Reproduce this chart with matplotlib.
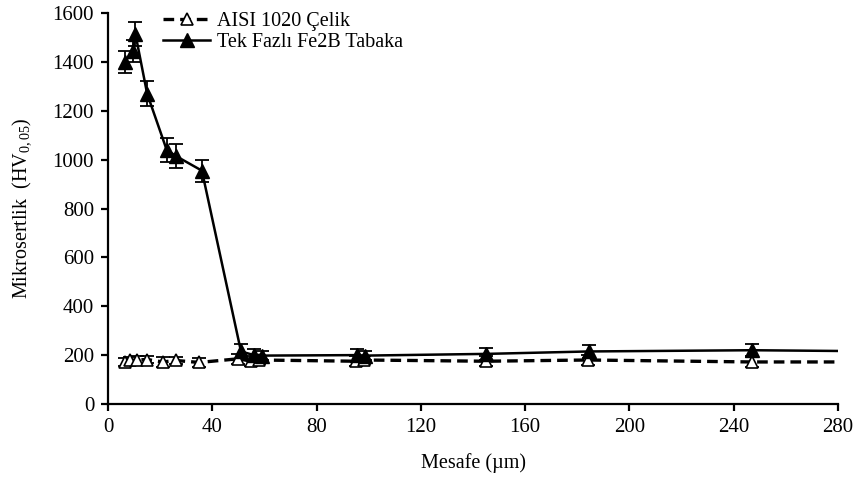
import numpy as np
import matplotlib
matplotlib.use("Agg")
import matplotlib.pyplot as plt

plt.rcParams['font.family'] = ['Liberation Serif', 'DejaVu Serif']
plt.rcParams['mathtext.fontset'] = 'custom'
plt.rcParams['mathtext.rm'] = 'Liberation Serif'
plt.rcParams['mathtext.it'] = 'Liberation Serif:italic'

# --- data ---
steel_x = [6.5, 8.5, 11, 15, 21, 26, 35, 50, 55, 58, 95, 98, 145, 184, 247, 280]
steel_y = [172, 178, 180, 182, 172, 178, 170, 185, 175, 180, 175, 180, 175, 180, 172, 172]
steel_err = [15, 15, 15, 15, 20, 15, 20, 20, 20, 15, 20, 15, 20, 20, 20, 0]

fe2b_x = [6.5, 9.5, 10.5, 15, 22.5, 26, 36, 51, 56, 59, 95.5, 98.5, 145, 184.5, 247, 280]
fe2b_y = [1400, 1445, 1515, 1270, 1040, 1015, 955, 215, 200, 198, 200, 198, 205, 215, 220, 217]
fe2b_err = [45, 45, 50, 50, 50, 50, 45, 30, 25, 20, 25, 20, 25, 25, 25, 0]

fig = plt.figure(figsize=(8.58, 4.83), dpi=100)
ax = fig.add_axes([0.1259, 0.1636, 0.8508, 0.8094])

# error bars (no marker on last point at the axis edge)
ax.errorbar(steel_x[:-1], steel_y[:-1], yerr=steel_err[:-1], fmt='none',
            ecolor='black', elinewidth=1.3, capsize=5, capthick=1.3)
ax.errorbar(fe2b_x[:-1], fe2b_y[:-1], yerr=fe2b_err[:-1], fmt='none',
            ecolor='black', elinewidth=1.3, capsize=5, capthick=1.3)

ax.plot(steel_x, steel_y, color='black', lw=2.4, ls=(0, (3.2, 1.8)),
        marker='^', markevery=list(range(len(steel_x) - 1)), ms=8,
        mfc='white', mec='black', mew=1.2, label='AISI 1020 Çelik')
ax.plot(fe2b_x, fe2b_y, color='black', lw=1.8,
        marker='^', markevery=list(range(len(fe2b_x) - 1)), ms=10,
        mfc='black', mec='black', label='Tek Fazlı Fe2B Tabaka')

ax.set_xlim(0, 280)
ax.set_ylim(0, 1600)
ax.set_xticks(np.arange(0, 281, 40))
ax.set_yticks(np.arange(0, 1601, 200))
ax.spines['top'].set_visible(False)
ax.spines['right'].set_visible(False)
ax.spines['left'].set_linewidth(1.6)
ax.spines['bottom'].set_linewidth(1.6)
ax.tick_params(direction='out', length=5, width=1.6, labelsize=15, pad=5)

ax.set_xlabel('Mesafe (µm)', fontsize=14.5, labelpad=12)
ax.set_ylabel(r'Mikrosertlik  (HV$_{0,05}$)', fontsize=14.5, labelpad=14)

ax.legend(loc='upper left', bbox_to_anchor=(0.19, 0.975),
          bbox_transform=fig.transFigure, frameon=False,
          fontsize=14.5, handlelength=2.35, handletextpad=0.35,
          labelspacing=0.1, borderaxespad=0, borderpad=0)

fig.savefig('out.png', dpi=100)
